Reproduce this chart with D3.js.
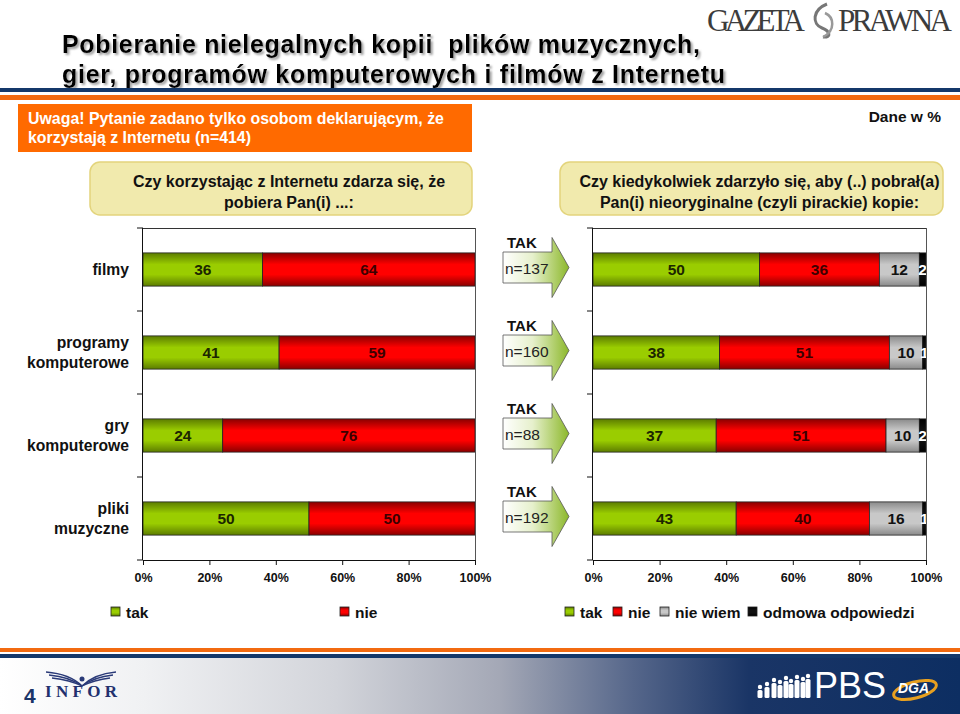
<!DOCTYPE html>
<html><head><meta charset="utf-8">
<script src="https://cdn.jsdelivr.net/npm/d3@7/dist/d3.min.js"></script>
<style>
html,body{margin:0;padding:0;background:#fff;}
svg{display:block;font-family:"Liberation Sans",Arial,sans-serif;}
</style></head>
<body>
<svg id="chart" width="960" height="714"></svg>
<script>
// ---------------- DATA ----------------
const categories = ["filmy", "programy komputerowe", "gry komputerowe", "pliki muzyczne"];
const leftTak = [36, 41, 24, 50];
const leftNie = [64, 59, 76, 50];
const rightTak = [50, 38, 37, 43];
const rightNie = [36, 51, 51, 40];
const rightNieWiem = [12, 10, 10, 16];
const rightOdmowa = [2, 1, 2, 1];
const sampleN = [137, 160, 88, 192];
const tickValues = [0, 20, 40, 60, 80, 100];
const leftSeries = ["tak", "nie"];
const rightSeries = ["tak", "nie", "nie wiem", "odmowa odpowiedzi"];

const svg = d3.select("#chart");
const defs = svg.append("defs");

// gradients
function vgrad(id, edge, mid) {
  const g = defs.append("linearGradient").attr("id", id).attr("x1", 0).attr("y1", 0).attr("x2", 0).attr("y2", 1);
  g.append("stop").attr("offset", "0%").attr("stop-color", edge);
  g.append("stop").attr("offset", "35%").attr("stop-color", mid);
  g.append("stop").attr("offset", "65%").attr("stop-color", mid);
  g.append("stop").attr("offset", "100%").attr("stop-color", edge);
}
vgrad("gGreen", "#5c7c00", "#9acd00");
vgrad("gRed", "#8a0000", "#ff0000");
vgrad("gGray", "#8a8a8a", "#c8c8c8");
vgrad("gBlack", "#000", "#111");
const fills = {"tak": "url(#gGreen)", "nie": "url(#gRed)", "nie wiem": "url(#gGray)", "odmowa odpowiedzi": "url(#gBlack)"};
const labelColors = {"tak": "#1c2600", "nie": "#3c0000", "nie wiem": "#111", "odmowa odpowiedzi": "#fff"};

const ag = defs.append("linearGradient").attr("id", "gArrow").attr("x1", 0).attr("y1", 0).attr("x2", 1).attr("y2", 0);
ag.append("stop").attr("offset", "0%").attr("stop-color", "#ffffff");
ag.append("stop").attr("offset", "45%").attr("stop-color", "#e6f0cc");
ag.append("stop").attr("offset", "100%").attr("stop-color", "#8cb82a");

const fg = defs.append("linearGradient").attr("id", "gFooter").attr("x1", 0).attr("y1", 0).attr("x2", 1).attr("y2", 0);
[["0%", "#ffffff"], ["15%", "#f0f1f3"], ["35%", "#d2d4da"], ["52%", "#a4a8b6"], ["66%", "#55668a"], ["78%", "#1a3566"], ["100%", "#0d2e62"]]
  .forEach(([o, c]) => fg.append("stop").attr("offset", o).attr("stop-color", c));

const shadow = defs.append("filter").attr("id", "tshadow").attr("x", "-5%").attr("y", "-20%").attr("width", "110%").attr("height", "150%");
shadow.append("feDropShadow").attr("dx", 2).attr("dy", 2).attr("stdDeviation", 0.8)
  .attr("flood-color", "#888").attr("flood-opacity", 0.8);

// ---------------- HEADER ----------------
const titleLines = ["Pobieranie nielegalnych kopii  plików muzycznych,", "gier, programów komputerowych i filmów z Internetu"];
const titleWidths = [638, 663];
titleLines.forEach((t, i) => {
  svg.append("text").attr("x", 62).attr("y", 53 + i * 30).attr("font-size", 25).attr("font-weight", "bold")
    .attr("fill", "#000").attr("filter", "url(#tshadow)").attr("textLength", titleWidths[i])
    .attr("lengthAdjust", "spacing").style("white-space", "pre").text(t);
});
svg.append("rect").attr("x", 0).attr("y", 88).attr("width", 960).attr("height", 4).attr("fill", "#14386a");
svg.append("rect").attr("x", 0).attr("y", 95).attr("width", 960).attr("height", 5).attr("fill", "#f26a10");

// GAZETA PRAWNA logo
svg.append("text").attr("x", 707).attr("y", 31).attr("font-family", "Liberation Serif, serif").attr("font-size", 31)
  .attr("fill", "#3c3c3c").attr("textLength", 98).text("GAZETA");
svg.append("text").attr("x", 838).attr("y", 31).attr("font-family", "Liberation Serif, serif").attr("font-size", 31)
  .attr("fill", "#3c3c3c").attr("textLength", 114).text("PRAWNA");
svg.append("path").attr("d", "M827,4 C812,10 812,24 822,28 C830,31 832,38 823,37")
  .attr("fill", "none").attr("stroke", "#777").attr("stroke-width", 3);
svg.append("path").attr("d", "M823,37 C836,30 834,17 825,13")
  .attr("fill", "none").attr("stroke", "#999").attr("stroke-width", 2.5);

// Note box
svg.append("rect").attr("x", 18).attr("y", 104).attr("width", 454).attr("height", 48).attr("fill", "#ff6a00");
["Uwaga! Pytanie zadano tylko osobom deklarującym, że", "korzystają z Internetu (n=414)"].forEach((t, i) => {
  svg.append("text").attr("x", 28).attr("y", 124 + i * 19).attr("font-size", 15.9).attr("font-weight", "bold")
    .attr("fill", "#fff").text(t);
});
svg.append("text").attr("x", 941).attr("y", 122).attr("text-anchor", "end").attr("font-size", 15.5)
  .attr("font-weight", "bold").attr("fill", "#111").text("Dane w %");

// Question boxes
function qbox(x, w, lines) {
  svg.append("rect").attr("x", x).attr("y", 162).attr("width", w).attr("height", 53).attr("rx", 10)
    .attr("fill", "#f1eaad").attr("stroke", "#e3d47c").attr("stroke-width", 1.5);
  lines.forEach((t, i) => svg.append("text").attr("x", x + w / 2 + 8).attr("y", 187 + i * 21)
    .attr("text-anchor", "middle").attr("font-size", 16).attr("font-weight", "bold").attr("fill", "#111").text(t));
}
qbox(90, 382, ["Czy korzystając z Internetu zdarza się, że", "pobiera Pan(i) ...:"]);
qbox(560, 383, ["Czy kiedykolwiek zdarzyło się, aby (..) pobrał(a)", "Pan(i) nieoryginalne (czyli pirackie) kopie:"]);

// ---------------- CHARTS ----------------
const plotTop = 228, plotBottom = 560;
const y = d3.scaleBand().domain(categories).range([plotTop, plotBottom]).paddingInner(0.6).paddingOuter(0.3);
const step = y.step();

function drawChart(x0, x1, seriesNames, seriesData, clipId) {
  const x = d3.scaleLinear().domain([0, 100]).range([x0, x1]);
  defs.append("clipPath").attr("id", clipId).append("rect")
    .attr("x", x0).attr("y", plotTop).attr("width", x1 - x0).attr("height", plotBottom - plotTop);
  const g = svg.append("g");
  g.append("line").attr("x1", x0).attr("x2", x1).attr("y1", plotTop + 0.5).attr("y2", plotTop + 0.5).attr("stroke", "#333");
  g.append("line").attr("x1", x1 + 0.5).attr("x2", x1 + 0.5).attr("y1", plotTop).attr("y2", plotBottom).attr("stroke", "#555");

  const rows = categories.map((c, i) => {
    let acc = 0;
    return seriesNames.map((s, j) => {
      const v = seriesData[j][i];
      const seg = {cat: c, s, v, x0: acc, x1: acc + v};
      acc += v;
      return seg;
    });
  }).flat();

  const bars = g.append("g").attr("clip-path", `url(#${clipId})`);
  bars.selectAll("rect").data(rows).join("rect")
    .attr("x", d => x(d.x0)).attr("width", d => x(d.x1) - x(d.x0))
    .attr("y", d => y(d.cat)).attr("height", y.bandwidth())
    .attr("fill", d => fills[d.s]).attr("stroke", "#222").attr("stroke-width", 0.8);
  bars.selectAll("text").data(rows).join("text")
    .attr("x", d => x((d.x0 + d.x1) / 2)).attr("y", d => y(d.cat) + y.bandwidth() / 2 + 5.5)
    .attr("text-anchor", "middle").attr("font-size", 15.5).attr("font-weight", "bold")
    .attr("fill", d => labelColors[d.s]).text(d => d.v);

  const xa = g.append("g").attr("transform", `translate(0,${plotBottom})`)
    .call(d3.axisBottom(x).tickValues(tickValues).tickFormat(d => d + "%").tickSize(5).tickSizeOuter(0));
  xa.select(".domain").attr("stroke", "#111");
  xa.selectAll(".tick line").attr("stroke", "#111");
  xa.selectAll("text").attr("font-size", 12.5).attr("font-weight", "bold").attr("fill", "#111")
    .attr("font-family", "Liberation Sans, Arial, sans-serif").attr("dy", "1.1em");

  g.append("line").attr("x1", x0 - 0.5).attr("x2", x0 - 0.5).attr("y1", plotTop).attr("y2", plotBottom).attr("stroke", "#111");
  const bounds = d3.range(categories.length + 1).map(i => plotTop + i * step);
  g.selectAll(".bt").data(bounds).join("line").attr("class", "bt")
    .attr("x1", x0 - 6).attr("x2", x0).attr("y1", d => d).attr("y2", d => d).attr("stroke", "#111");
  return x;
}

drawChart(143, 475, leftSeries, [leftTak, leftNie], "clipL");
drawChart(593, 926, rightSeries, [rightTak, rightNie, rightNieWiem, rightOdmowa], "clipR");

// category labels
categories.forEach((c, i) => {
  const words = c.split(" ");
  const cy = y(c) + y.bandwidth() / 2;
  words.forEach((w, k) => {
    svg.append("text").attr("x", 129).attr("y", cy + 5 + (k - (words.length - 1) / 2) * 20)
      .attr("text-anchor", "end").attr("font-size", 15.7).attr("font-weight", "bold").attr("fill", "#111").text(w);
  });
});

// arrows
categories.forEach((c, i) => {
  const cy = y(c) + y.bandwidth() / 2 - 2;
  const bx0 = 503, bx1 = 552, tip = 569, bh = 15.5, hh = 30;
  const pts = [[bx0, cy - bh], [bx1, cy - bh], [bx1, cy - hh], [tip, cy], [bx1, cy + hh], [bx1, cy + bh], [bx0, cy + bh]];
  svg.append("path").attr("d", d3.line()(pts) + "Z").attr("fill", "url(#gArrow)")
    .attr("stroke", "#555").attr("stroke-width", 0.8);
  svg.append("text").attr("x", 507).attr("y", cy - 20).attr("font-size", 15).attr("font-weight", "bold")
    .attr("fill", "#111").text("TAK");
  svg.append("text").attr("x", 505).attr("y", cy + 6).attr("font-size", 15.5).attr("fill", "#222")
    .text("n=" + sampleN[i]);
});

// legends
function legend(items) {
  items.forEach(([name, sx]) => {
    svg.append("rect").attr("x", sx).attr("y", 607).attr("width", 9).attr("height", 9)
      .attr("fill", fills[name]).attr("stroke", "#222").attr("stroke-width", 0.8);
    svg.append("text").attr("x", sx + 15).attr("y", 618).attr("font-size", 15.5).attr("font-weight", "bold")
      .attr("fill", "#111").text(name);
  });
}
legend([["tak", 111], ["nie", 340]]);
legend([["tak", 565], ["nie", 613], ["nie wiem", 660], ["odmowa odpowiedzi", 748]]);

// ---------------- FOOTER ----------------
svg.append("rect").attr("x", 0).attr("y", 648).attr("width", 960).attr("height", 4).attr("fill", "#f26a10");
svg.append("rect").attr("x", 0).attr("y", 654).attr("width", 960).attr("height", 4).attr("fill", "#14386a");
svg.append("rect").attr("x", 0).attr("y", 658).attr("width", 960).attr("height", 56).attr("fill", "url(#gFooter)");
svg.append("text").attr("x", 24).attr("y", 703).attr("font-size", 21).attr("font-weight", "bold").attr("fill", "#1a3568").text("4");
svg.append("text").attr("x", 45).attr("y", 697).attr("font-family", "Liberation Serif, serif").attr("font-size", 17)
  .attr("font-weight", "bold").attr("fill", "#22306e").attr("textLength", 72).text("INFOR");
[0, 3, 6].forEach(o => {
  svg.append("path").attr("d", `M${46 + o},${672 + o} Q70,${674 + o} 82,686`).attr("fill", "none").attr("stroke", "#2a3a78").attr("stroke-width", 1.3);
  svg.append("path").attr("d", `M${116 - o},${672 + o} Q94,${674 + o} 82,686`).attr("fill", "none").attr("stroke", "#2a3a78").attr("stroke-width", 1.3);
});
svg.append("circle").attr("cx", 82).attr("cy", 679).attr("r", 2.5).attr("fill", "#2a3a78");

// PBS logo
const people = [[760, 8], [767, 11], [774, 15], [780, 13], [786, 17], [791, 14], [797, 18], [803, 16], [808, 19]];
people.forEach(([px, h]) => {
  svg.append("circle").attr("cx", px).attr("cy", 698 - h - 3).attr("r", 2.2).attr("fill", "#fff");
  svg.append("rect").attr("x", px - 2.5).attr("y", 698 - h).attr("width", 5).attr("height", h).attr("rx", 1.5).attr("fill", "#fff");
});
svg.append("text").attr("x", 814).attr("y", 698).attr("font-size", 36).attr("fill", "#fff").text("PBS");
svg.append("ellipse").attr("cx", 915).attr("cy", 690).attr("rx", 22).attr("ry", 8).attr("fill", "none")
  .attr("stroke", "#e8a020").attr("stroke-width", 3).attr("transform", "rotate(-15 915 690)");
svg.append("text").attr("x", 898).attr("y", 693).attr("font-size", 14).attr("font-weight", "bold")
  .attr("font-style", "italic").attr("fill", "#fff").text("DGA");
</script>
</body></html>
